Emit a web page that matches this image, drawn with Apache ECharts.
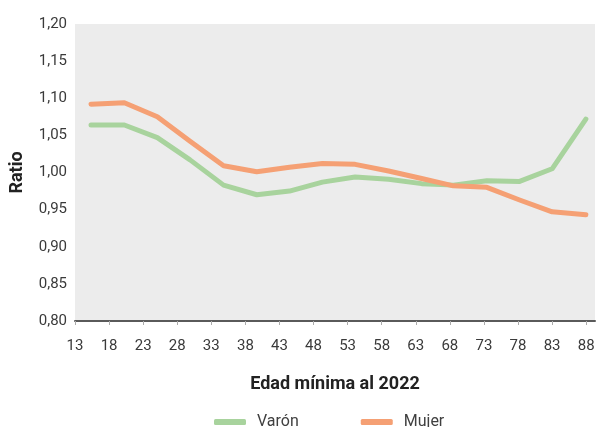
<!DOCTYPE html>
<html>
<head>
<meta charset="utf-8">
<script src="https://cdn.jsdelivr.net/npm/echarts@6/dist/echarts.min.js"></script>
<style>
html,body{margin:0;padding:0;background:#fff;}
#c{width:598px;height:427px;}
</style>
</head>
<body>
<div id="c"></div>
<script>
// Estimated x positions (age) of each point
var ages = [15.35, 20.24, 25.08, 29.88, 34.80, 39.67, 44.48, 49.30, 54.10, 59.01, 63.86, 68.52, 73.43, 78.24, 83.01, 87.96];
var varon = [1.064, 1.064, 1.047, 1.017, 0.983, 0.970, 0.975, 0.987, 0.994, 0.991, 0.985, 0.983, 0.989, 0.988, 1.005, 1.072];
var mujer = [1.092, 1.094, 1.075, 1.042, 1.009, 1.001, 1.007, 1.012, 1.011, 1.002, 0.992, 0.982, 0.980, 0.963, 0.947, 0.943];
var xTickLabels = [13, 18, 23, 28, 33, 38, 43, 48, 53, 58, 63, 68, 73, 78, 83, 88];
var yTickLabels = [0.80, 0.85, 0.90, 0.95, 1.00, 1.05, 1.10, 1.15, 1.20];

function pairs(xs, ys){ return xs.map(function(x,i){ return [x, ys[i]]; }); }

var chart = echarts.init(document.getElementById('c'));
var font = 'Roboto';
chart.setOption({
  animation: false,
  textStyle: {fontFamily: font},
  grid: {left: 75, right: 3, top: 24, bottom: 106, backgroundColor: '#ececec', show: true, borderWidth: 0,
         containLabel: false, outerBoundsMode: 'none'},
  xAxis: {
    type: 'value', min: 13, max: 89.3,
    name: 'Edad mínima al 2022', nameLocation: 'middle', nameGap: 54,
    nameTextStyle: {fontFamily: font, fontSize: 18, fontWeight: 'bold', color: '#222'},
    axisLine: {show: true, lineStyle: {color: '#5a5a5a', width: 2}},
    axisTick: {show: true, customValues: xTickLabels, length: 4, lineStyle: {color: '#aaa', width: 1}},
    axisLabel: {customValues: xTickLabels, fontFamily: font, fontSize: 15, color: '#3a3a3a', margin: 18},
    splitLine: {show: false}
  },
  yAxis: {
    type: 'value', min: 0.8, max: 1.2,
    name: 'Ratio', nameLocation: 'middle', nameGap: 49,
    nameTextStyle: {fontFamily: font, fontSize: 18, fontWeight: 'bold', color: '#222'},
    axisLine: {show: false}, axisTick: {show: false}, splitLine: {show: false},
    axisLabel: {customValues: yTickLabels, fontFamily: font, fontSize: 15, color: '#3a3a3a', margin: 8,
      formatter: function(v){ return v.toFixed(2).replace('.', ','); }}
  },
  legend: {
    left: 209, top: 409, itemWidth: 32, itemHeight: 6, itemGap: 62, icon: 'roundRect',
    textStyle: {fontFamily: font, fontSize: 16, color: '#404040', padding: [0,0,0,6]},
    data: ['Varón', 'Mujer']
  },
  series: [
    {name: 'Varón', type: 'line', data: pairs(ages, varon), symbol: 'none', color: '#a8d39d',
     lineStyle: {width: 5, color: '#a8d39d', cap: 'round', join: 'round'}},
    {name: 'Mujer', type: 'line', data: pairs(ages, mujer), symbol: 'none', color: '#f5a074',
     lineStyle: {width: 5, color: '#f5a074', cap: 'round', join: 'round'}}
  ]
});
</script>
</body>
</html>
